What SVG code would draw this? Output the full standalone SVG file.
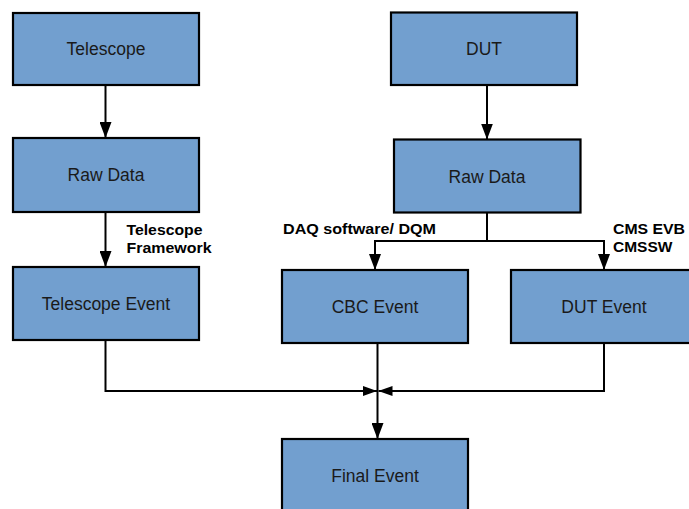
<svg xmlns="http://www.w3.org/2000/svg" width="689" height="509" viewBox="0 0 689 509">
<style>
.box{fill:#729fcf;stroke:#000;stroke-width:2.2}
.t{font-family:"Liberation Sans",Arial,sans-serif;font-size:17.5px;fill:#1a1a1a;text-anchor:middle}
.lb{font-family:"Liberation Sans",Arial,sans-serif;font-size:15.5px;font-weight:bold;fill:#000}
.c{fill:none;stroke:#000;stroke-width:2}
</style>
<defs>
<marker id="ah" markerUnits="userSpaceOnUse" markerWidth="16" markerHeight="12" viewBox="0 0 16 12" refX="16" refY="6" orient="auto">
<path d="M0,0 L16,6 L0,12 Z" fill="#000"/>
</marker>
<marker id="ahs" markerUnits="userSpaceOnUse" markerWidth="14" markerHeight="10" viewBox="0 0 14 10" refX="14" refY="5" orient="auto">
<path d="M0,0 L14,5 L0,10 Z" fill="#000"/>
</marker>
</defs>
<g id="connectors">
<path class="c" d="M105.5,85 V138" marker-end="url(#ah)"/>
<path class="c" d="M105.5,212 V267" marker-end="url(#ah)"/>
<path class="c" d="M487,85 V139.5" marker-end="url(#ah)"/>
<path class="c" d="M487,212.5 V241 H375 V270" marker-end="url(#ah)"/>
<path class="c" d="M487,241 H604 V270" marker-end="url(#ah)"/>
<path class="c" d="M105.5,340 V391 H377" marker-end="url(#ahs)"/>
<path class="c" d="M604,343 V391 H378.5" marker-end="url(#ahs)"/>
<path class="c" d="M377.5,343 V439" marker-end="url(#ah)"/>
</g>
<g id="telescope"><rect class="box" x="13" y="13" width="186" height="72"/><text class="t" x="106" y="55">Telescope</text></g>
<g id="rawdata-left"><rect class="box" x="13" y="138" width="186" height="74"/><text class="t" x="106" y="181">Raw Data</text></g>
<g id="telescope-event"><rect class="box" x="13" y="267" width="186" height="73"/><text class="t" x="106" y="310">Telescope Event</text></g>
<g id="dut"><rect class="box" x="391" y="12.5" width="186" height="72.5"/><text class="t" x="484" y="55">DUT</text></g>
<g id="rawdata-right"><rect class="box" x="394" y="139.5" width="186.5" height="73"/><text class="t" x="487" y="183">Raw Data</text></g>
<g id="cbc-event"><rect class="box" x="282" y="270" width="186" height="73"/><text class="t" x="375" y="313">CBC Event</text></g>
<g id="dut-event"><rect class="box" x="511" y="270" width="186" height="73"/><text class="t" x="604" y="313">DUT Event</text></g>
<g id="final-event"><rect class="box" x="282" y="439" width="186" height="73"/><text class="t" x="375" y="482">Final Event</text></g>
<g id="labels">
<text class="lb" x="126.5" y="235" textLength="76" lengthAdjust="spacingAndGlyphs">Telescope</text>
<text class="lb" x="126.5" y="252.5" textLength="85" lengthAdjust="spacingAndGlyphs">Framework</text>
<text class="lb" x="283" y="234" textLength="153" lengthAdjust="spacingAndGlyphs">DAQ software/ DQM</text>
<text class="lb" x="613" y="234" textLength="72" lengthAdjust="spacingAndGlyphs">CMS EVB</text>
<text class="lb" x="613" y="252">CMSSW</text>
</g>
</svg>
